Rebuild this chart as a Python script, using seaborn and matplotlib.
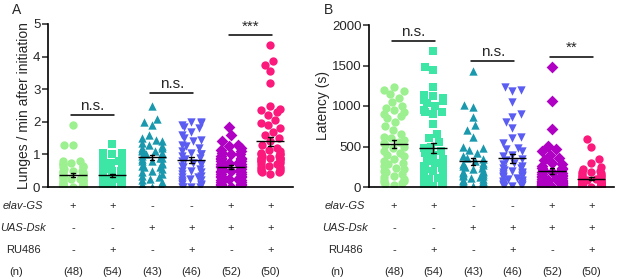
import warnings

import matplotlib

matplotlib.use("Agg")
import matplotlib.pyplot as plt
import matplotlib.transforms as mtransforms
import numpy as np
import pandas as pd
import seaborn as sns

warnings.filterwarnings("ignore")

GROUPS = [0, 1, 2, 3, 4, 5]
COLORS = ["#9cf08f", "#3ee6a6", "#1a98ad", "#5a5cf2", "#b000c4", "#fb1a7c"]
MARKERS = ["o", "s", "^", "v", "D", "o"]

ELAV_GS = ["+", "+", "-", "-", "+", "+"]
UAS_DSK = ["-", "-", "+", "+", "+", "+"]
RU486 = ["-", "+", "-", "+", "-", "+"]
N_LABELS = ["(48)", "(54)", "(43)", "(46)", "(52)", "(50)"]

# Panel A: lunges / min after initiation
LUNGES_1 = [1.9, 1.3, 1.3, 0.8, 0.8, 0.75, 0.7, 0.7, 0.65, 0.6, 0.6, 0.55, 0.5, 0.5,
            0.5, 0.45, 0.45, 0.4, 0.4, 0.4, 0.35, 0.35, 0.3, 0.3, 0.3, 0.25, 0.25,
            0.2, 0.2, 0.2, 0.15, 0.15, 0.1, 0.1, 0.1, 0.05, 0.05,
            0, 0, 0, 0, 0, 0, 0, 0, 0, 0, 0]
LUNGES_2 = [1.33, 1.05, 1.05, 1.0, 1.0, 0.95, 0.9, 0.85, 0.8, 0.75, 0.7, 0.7, 0.65,
            0.6, 0.6, 0.55, 0.5, 0.5, 0.45, 0.45, 0.4, 0.4, 0.35, 0.35, 0.3, 0.3,
            0.3, 0.25, 0.25, 0.2, 0.2, 0.2, 0.15, 0.15, 0.1, 0.1, 0.1, 0.05, 0.05,
            0, 0, 0, 0, 0, 0, 0, 0, 0, 0, 0, 0, 0, 0, 0]
LUNGES_3 = [2.5, 2.1, 2.0, 1.9, 1.6, 1.5, 1.45, 1.4, 1.35, 1.3, 1.25, 1.2, 1.2, 1.15,
            1.1, 1.1, 1.05, 1.0, 1.0, 0.95, 0.9, 0.9, 0.85, 0.8, 0.8, 0.75, 0.7,
            0.65, 0.6, 0.6, 0.55, 0.5, 0.45, 0.4, 0.35, 0.3, 0.25, 0.2, 0.15, 0.1,
            0.05, 0, 0]
LUNGES_4 = [2.0, 2.0, 1.95, 1.9, 1.85, 1.8, 1.7, 1.6, 1.5, 1.45, 1.4, 1.3, 1.25, 1.2,
            1.1, 1.05, 1.0, 1.0, 0.95, 0.9, 0.85, 0.8, 0.75, 0.7, 0.7, 0.65, 0.6,
            0.55, 0.5, 0.5, 0.45, 0.4, 0.35, 0.3, 0.3, 0.25, 0.2, 0.2, 0.15, 0.1,
            0.1, 0.05, 0, 0, 0, 0]
LUNGES_5 = [1.85, 1.6, 1.4, 1.3, 1.25, 1.2, 1.15, 1.1, 1.05, 1.0, 1.0, 0.95, 0.9,
            0.9, 0.85, 0.85, 0.8, 0.8, 0.75, 0.75, 0.7, 0.7, 0.65, 0.65, 0.6, 0.6,
            0.55, 0.55, 0.5, 0.5, 0.5, 0.45, 0.45, 0.4, 0.4, 0.35, 0.35, 0.3, 0.3,
            0.25, 0.25, 0.2, 0.2, 0.15, 0.15, 0.1, 0.1, 0.05, 0.05, 0, 0, 0]
LUNGES_6 = [4.35, 3.85, 3.75, 3.55, 3.2, 2.5, 2.4, 2.35, 2.3, 2.2, 2.05, 1.95, 1.9,
            1.8, 1.7, 1.6, 1.5, 1.4, 1.3, 1.2, 1.15, 1.1, 1.05, 1.0, 1.0, 0.95,
            0.9, 0.9, 0.85, 0.8, 1.0, 0.95, 0.9, 0.9, 0.85, 0.8, 0.8, 0.75, 0.7,
            0.7, 0.65, 0.6, 0.6, 0.55, 0.55, 0.5, 0.5, 0.45, 0.45, 0.4]

# Panel B: latency (s)
LATENCY_1 = [1240, 1200, 1180, 1150, 1100, 1050, 1000, 980, 950, 920, 900, 880, 850,
             800, 750, 700, 660, 620, 600, 580, 560, 540, 520, 500, 480, 450, 420,
             400, 380, 350, 320, 300, 280, 260, 240, 220, 200, 180, 160, 140, 120,
             100, 90, 80, 60, 50, 40, 30]
LATENCY_2 = [1680, 1480, 1450, 1230, 1130, 1120, 1100, 1080, 1060, 1040, 1000, 950,
             930, 920, 900, 780, 650, 600, 550, 500, 480, 450, 420, 400, 350, 320,
             300, 280, 260, 240, 230, 220, 200, 190, 180, 170, 160, 150, 140, 130,
             120, 110, 100, 90, 80, 70, 60, 50, 40, 30, 20, 20, 10, 10]
LATENCY_3 = [1430, 1010, 990, 870, 760, 700, 620, 500, 480, 460, 420, 380, 360, 340,
             320, 300, 290, 270, 260, 250, 240, 220, 200, 190, 180, 170, 160, 150,
             140, 130, 120, 110, 100, 90, 80, 70, 60, 50, 40, 30, 20, 15, 10]
LATENCY_4 = [1230, 1200, 1180, 1050, 900, 870, 800, 730, 620, 600, 540, 480, 470,
             440, 400, 380, 350, 330, 300, 280, 260, 240, 230, 210, 200, 190, 180,
             170, 160, 150, 140, 130, 120, 110, 100, 90, 80, 70, 60, 50, 40, 30, 20,
             20, 10, 10]
LATENCY_5 = [1480, 1060, 720, 510, 470, 440, 400, 360, 330, 300, 280, 260, 240, 230,
             220, 210, 200, 190, 180, 170, 160, 150, 140, 130, 120, 110, 100, 95, 90,
             85, 80, 75, 70, 65, 60, 55, 50, 45, 40, 35, 30, 25, 20, 20, 15, 15, 10,
             10, 5, 5, 0, 0]
LATENCY_6 = [590, 500, 350, 300, 250, 220, 200, 190, 180, 170, 160, 150, 140, 130,
             120, 110, 100, 95, 90, 85, 80, 75, 70, 65, 60, 55, 50, 45, 40, 40, 35,
             35, 30, 30, 25, 25, 20, 20, 15, 15, 10, 10, 10, 5, 5, 5, 0, 0, 0, 0]

# (left group, right group, bar height, label)
SIG_A = [(0, 1, 2.2, "n.s."), (2, 3, 2.88, "n.s."), (4, 5, 4.65, "***")]
SIG_B = [(0, 1, 1800, "n.s."), (2, 3, 1555, "n.s."), (4, 5, 1605, "**")]

# seaborn packs a swarm into 0.8 x the spacing of x values; Prism columns are narrower
SWARM_WIDTH = 0.5


def to_frame(series):
    rows = []
    for g, vals in zip(GROUPS, series):
        for v in vals:
            rows.append({"pos": g, "value": v})
    return pd.DataFrame(rows)


def draw_panel(fig, ax, df, ylim, yticks, ylabel, sig, label_x, n_x, letter, letter_x,
               labelpad):
    # swarm of points, one call per group for its own marker / colour
    for g, c, m in zip(GROUPS, COLORS, MARKERS):
        sub = df[df["pos"] == g]
        # empty row (no y) only narrows the swarm width, nothing is drawn for it
        pad = pd.DataFrame({"pos": [g + SWARM_WIDTH / 0.8], "value": [np.nan]})
        sub = pd.concat([sub, pad], ignore_index=True)
        sns.swarmplot(data=sub, x="pos", y="value", native_scale=True, orient="x",
                      color=c, marker=m, size=6.0, linewidth=0, ax=ax, zorder=2)

    # mean +/- SEM
    sns.pointplot(data=df, x="pos", y="value", native_scale=True, orient="x",
                  estimator="mean", errorbar="se", color="black", marker="_",
                  markersize=20, markeredgewidth=1.0, linestyle="none", capsize=0.12,
                  err_kws={"linewidth": 1.0}, ax=ax, zorder=5)

    ax.set_xlim(-0.63, 5.57)
    ax.set_ylim(*ylim)
    ax.set_yticks(yticks)
    ax.set_xticks([])
    ax.set_xlabel("")
    ax.set_ylabel(ylabel, fontsize=10, labelpad=labelpad)
    ax.tick_params(axis="y", labelsize=9.5, length=4, width=1.1, pad=1.5)
    sns.despine(ax=ax)
    for s in ["left", "bottom"]:
        ax.spines[s].set_linewidth(1.2)
        ax.spines[s].set_color("black")

    for x0, x1, y, txt in sig:
        ax.plot([x0 - 0.05, x1 + 0.05], [y, y], color="black", lw=1.1, clip_on=False)
        ax.annotate(txt, xy=((x0 + x1) / 2, y), xytext=(0, 1.5),
                    textcoords="offset points", ha="center", va="bottom", fontsize=11)

    # genotype table below the axis
    trans = mtransforms.blended_transform_factory(ax.transData, fig.transFigure)
    rows = [(ELAV_GS, "elav-GS", "italic", 0.262),
            (UAS_DSK, "UAS-Dsk", "italic", 0.183),
            (RU486, "RU486", "normal", 0.104)]
    for signs, name, style, y in rows:
        fig.text(label_x, y, name, ha="center", va="center", fontsize=8, style=style)
        for i, s in enumerate(signs):
            ax.text(i, y, s, transform=trans, ha="center", va="center", fontsize=8,
                    clip_on=False)
    fig.text(n_x, 0.025, "(n)", ha="center", va="center", fontsize=8)
    for i, s in enumerate(N_LABELS):
        ax.text(i, 0.025, s, transform=trans, ha="center", va="center", fontsize=8,
                clip_on=False)

    fig.text(letter_x, 0.965, letter, ha="left", va="center", fontsize=10)


sns.set_style("ticks")
plt.rcParams["font.family"] = ["Liberation Sans", "DejaVu Sans"]

fig = plt.figure(figsize=(6.17, 2.79), dpi=100)
ax_a = fig.add_axes([48 / 617, 92 / 279, 245 / 617, 163 / 279])
ax_b = fig.add_axes([369 / 617, 92 / 279, 245 / 617, 162 / 279])

df_a = to_frame([LUNGES_1, LUNGES_2, LUNGES_3, LUNGES_4, LUNGES_5, LUNGES_6])
df_b = to_frame([LATENCY_1, LATENCY_2, LATENCY_3, LATENCY_4, LATENCY_5, LATENCY_6])

draw_panel(fig, ax_a, df_a, (0, 5), [0, 1, 2, 3, 4, 5],
           "Lunges / min after initiation", SIG_A, 23 / 617, 16 / 617, "A", 12 / 617,
           labelpad=1)
draw_panel(fig, ax_b, df_b, (0, 2000), [0, 500, 1000, 1500, 2000],
           "Latency (s)", SIG_B, 345 / 617, 337 / 617, "B", 324 / 617,
           labelpad=1.5)

fig.savefig("out.png", dpi=100)
